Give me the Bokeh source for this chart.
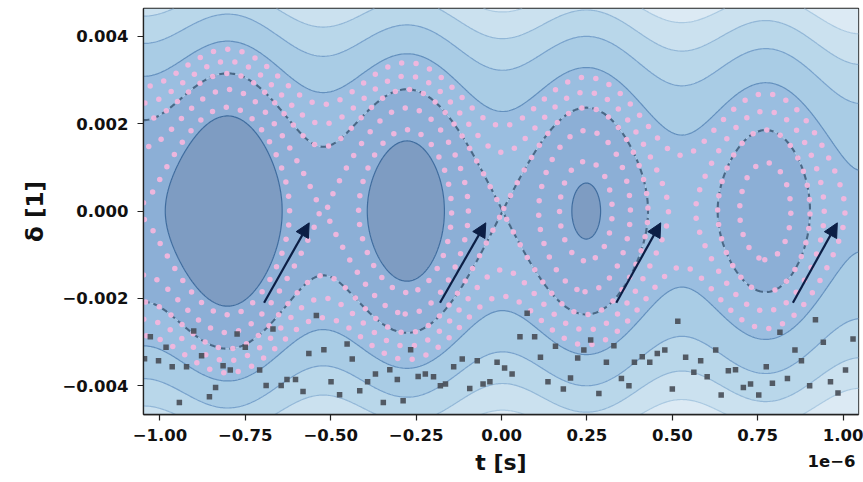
import numpy as np
import contourpy
from bokeh.plotting import figure
from bokeh.models import Range1d, FixedTicker, Arrow, NormalHead, ColumnDataSource, Title
from bokeh.embed import file_html
from bokeh.resources import INLINE

# ---------------- values ----------------
# time axis shown in units of 1e-6 s
bucket_period = 0.525        # spacing of the RF buckets
bucket_phase = -0.793        # centre of the first bucket
well_amplitude = 3.33        # half depth of a bucket (units of (1e3*delta)^2)
potential_slope = 4.13       # tilt of the potential per 1e-6 s
potential_offset = -3.26

contour_levels = [-15.6, -10.4, -5.2, 0.0, 5.2, 10.4, 15.6, 20.8, 26.0, 31.2]
band_colors = ["#7593bb", "#7e9cc2", "#8cafd6", "#9abee0", "#a9cce5",
               "#b9d7ea", "#cbe1ef", "#dceaf4", "#eaf3f9"]
level_line_colors = ["#44709f", "#44709f", "#3f6c9e", "#4f6e8c", "#6390be",
                     "#78a2cc", "#92b7d7", "#aac9e1", "#c2d8ea", "#c2d8ea"]
level_line_alpha = [0, 0, 1, 0, 1, 1, 1, 1, 1, 0]
separatrix_level = 0.0
orbit_levels = [-4.3, -2.2, 0.0, 1.8, 3.8]

sq_t = [-1.028, -1.045, -1.004, -0.964, -0.922, -0.982, -0.901, -0.878, -0.837, -0.855,
        -0.943, -0.815, -0.794, -0.774, -0.750, -0.708, -0.689, -0.669, -0.645, -0.628,
        -0.603, -0.581, -0.564, -0.542, -0.520, -0.499, -0.474, -0.452, -0.437, -0.415,
        -0.392, -0.369, -0.346, -0.327, -0.305, -0.288, -0.266, -0.244, -0.223, -0.199,
        -0.179, -0.164, -0.140, -0.115, -0.093, -0.071, -0.054, -0.034, -0.013, 0.009,
        0.031, 0.054, 0.097, 0.075, 0.114, 0.136, 0.158, 0.181, 0.202, 0.223,
        0.241, 0.261, 0.285, 0.307, 0.329, 0.351, 0.373, 0.389, 0.412, 0.434,
        0.456, 0.478, 0.500, 0.516, 0.539, 0.563, 0.583, 0.602, 0.627, 0.643,
        0.664, 0.685, 0.708, 0.729, 0.753, 0.775, 0.793, 0.815, 0.837, 0.859,
        0.878, 0.902, 0.919, 0.942, 0.963, 0.985, 1.007, 1.029]
sq_d = [-0.002877, -0.003381, -0.003427, -0.003565, -0.003565, -0.003122, -0.002745, -0.003312, -0.004039, -0.004252,
        -0.004383, -0.003542, -0.003640, -0.002815, -0.003122, -0.003640, -0.003993, -0.002700, -0.003993, -0.003856,
        -0.003856, -0.004131, -0.003260, -0.002395, -0.003175, -0.003908, -0.004206, -0.003044, -0.003388, -0.004115,
        -0.003908, -0.003732, -0.004383, -0.003633, -0.003856, -0.004344, -0.003175, -0.003787, -0.003732, -0.003794,
        -0.004000, -0.003961, -0.003565, -0.003388, -0.004062, -0.003427, -0.003961, -0.003908, -0.003466, -0.003594,
        -0.003732, -0.002877, -0.002877, -0.002343, -0.003351, -0.003908, -0.003099, -0.004076, -0.003824, -0.003365,
        -0.003182, -0.002952, -0.004177, -0.003466, -0.003083, -0.003833, -0.004000, -0.003466, -0.003335, -0.003466,
        -0.003260, -0.003182, -0.004076, -0.002526, -0.003351, -0.003695, -0.003427, -0.003794, -0.003182, -0.004213,
        -0.003656, -0.003633, -0.004039, -0.003961, -0.004213, -0.003565, -0.003947, -0.002778, -0.003833, -0.003182,
        -0.003427, -0.004000, -0.002487, -0.003007, -0.003908, -0.004167, -0.003640, -0.002930]

arrow_t0 = [-0.695, -0.180, 0.336, 0.853]
arrow_d0 = [-0.00210, -0.00210, -0.00210, -0.00210]
arrow_t1 = [-0.563, -0.046, 0.466, 0.983]
arrow_d1 = [-0.00027, -0.00027, -0.00027, -0.00027]

x_ticks = [-1.0, -0.75, -0.5, -0.25, 0.0, 0.25, 0.5, 0.75, 1.0]
x_tick_labels = ["\u22121.00", "\u22120.75", "\u22120.50", "\u22120.25", "0.00", "0.25", "0.50", "0.75", "1.00"]
y_ticks = [-0.004, -0.002, 0.0, 0.002, 0.004]
y_tick_labels = ["\u22120.004", "\u22120.002", "0.000", "0.002", "0.004"]
x_scale_text = "1e\u22126"

x_lo, x_hi = -1.048, 1.045
y_lo, y_hi = -0.00466, 0.00464

# ---------------- Hamiltonian field ----------------
tt = np.linspace(x_lo, x_hi, 500)
dd = np.linspace(y_lo, y_hi, 360)
omega = 2 * np.pi / bucket_period


def potential(t):
    return potential_offset - well_amplitude * np.cos(omega * (t - bucket_phase)) + potential_slope * t


# put the separatrix level exactly through the X point near t = 0
tx = np.linspace(-0.15, 0.15, 3001)
shift = potential(tx).max()
T, D = np.meshgrid(tt, dd)
H = (D * 1e3) ** 2 + potential(T) - shift

gen = contourpy.contour_generator(tt, dd, H, line_type="Separate")

FW, FH = 715, 406


def to_px(seg):
    return ((seg[:, 0] - x_lo) / (x_hi - x_lo) * FW, (seg[:, 1] - y_lo) / (y_hi - y_lo) * FH)


dot_t, dot_d = [], []
spacing = 14.5
for k, lev in enumerate(orbit_levels):
    for seg in gen.lines(lev):
        if len(seg) < 2:
            continue
        px, py = to_px(seg)
        s = np.concatenate([[0], np.cumsum(np.hypot(np.diff(px), np.diff(py)))])
        if s[-1] < spacing:
            continue
        pos = np.arange((k * 5.3) % spacing, s[-1], spacing)
        dot_t.extend(np.interp(pos, s, seg[:, 0]))
        dot_d.extend(np.interp(pos, s, seg[:, 1]))

sep_xs, sep_ys = [], []
for seg in gen.lines(separatrix_level):
    sep_xs.append(list(seg[:, 0]))
    sep_ys.append(list(seg[:, 1]))

# ---------------- figure ----------------
p = figure(width=863, height=482, output_backend="svg", toolbar_location=None,
           x_range=Range1d(x_lo, x_hi), y_range=Range1d(y_lo, y_hi),
           min_border_left=143, min_border_right=5, min_border_top=8, min_border_bottom=68)
p.grid.visible = False
p.background_fill_color = "white"
p.border_fill_color = "white"
p.outline_line_color = "#222222"
p.outline_line_width = 1.3

p.contour(tt, dd, H, levels=contour_levels, fill_color=band_colors,
          line_color=level_line_colors, line_alpha=level_line_alpha, line_width=1.2)

p.multi_line(sep_xs, sep_ys, line_color="#4a6886", line_width=2.1, line_dash="6 4")

p.scatter(dot_t, dot_d, size=5.5, marker="circle", fill_color="#f2b6dd", line_color=None, fill_alpha=0.95)

p.scatter(sq_t, sq_d, size=5.5, marker="square", fill_color="#474c55", line_color=None, fill_alpha=0.9)

arrow_color = "#0c1e45"
src = ColumnDataSource(dict(x0=arrow_t0, y0=arrow_d0, x1=arrow_t1, y1=arrow_d1))
p.add_layout(Arrow(end=NormalHead(size=14, fill_color=arrow_color, line_color=arrow_color),
                   x_start="x0", y_start="y0", x_end="x1", y_end="y1", source=src,
                   line_color=arrow_color, line_width=2.2))

for ax in (p.xaxis, p.yaxis):
    ax.major_label_text_font = "DejaVu Sans"
    ax.major_label_text_font_style = "bold"
    ax.major_label_text_font_size = "16.5px"
    ax.major_label_text_color = "#111111"
    ax.axis_label_text_font = "DejaVu Sans"
    ax.axis_label_text_font_style = "bold"
    ax.axis_label_text_color = "#111111"
    ax.major_tick_out = 6
    ax.major_tick_in = 0
    ax.minor_tick_out = 0
    ax.minor_tick_in = 0
    ax.axis_line_color = "#222222"
    ax.axis_line_width = 1.3
    ax.major_tick_line_color = "#222222"
    ax.major_tick_line_width = 1.2

p.xaxis.axis_label_text_font_size = "22px"
p.yaxis.axis_label_text_font_size = "23px"
p.xaxis.ticker = FixedTicker(ticks=x_ticks)
p.xaxis.major_label_overrides = dict(zip(x_ticks, x_tick_labels))
p.yaxis.ticker = FixedTicker(ticks=y_ticks)
p.yaxis.major_label_overrides = dict(zip(y_ticks, y_tick_labels))
p.xaxis.axis_label = "t [s]"
p.yaxis.axis_label = "\u03b4 [1]"
p.xaxis.major_label_standoff = 8
p.yaxis.major_label_standoff = 9
p.xaxis.axis_label_standoff = 6
p.yaxis.axis_label_standoff = 11

# offset text of the time axis ("1e-6"), pulled up beside the axis label
p.add_layout(Title(text=x_scale_text, align="right", vertical_align="top", offset=3, standoff=-46,
                   text_font="DejaVu Sans", text_font_style="bold", text_font_size="16.5px",
                   text_color="#111111"), "below")

open("out.html", "w").write(file_html(p, INLINE))
